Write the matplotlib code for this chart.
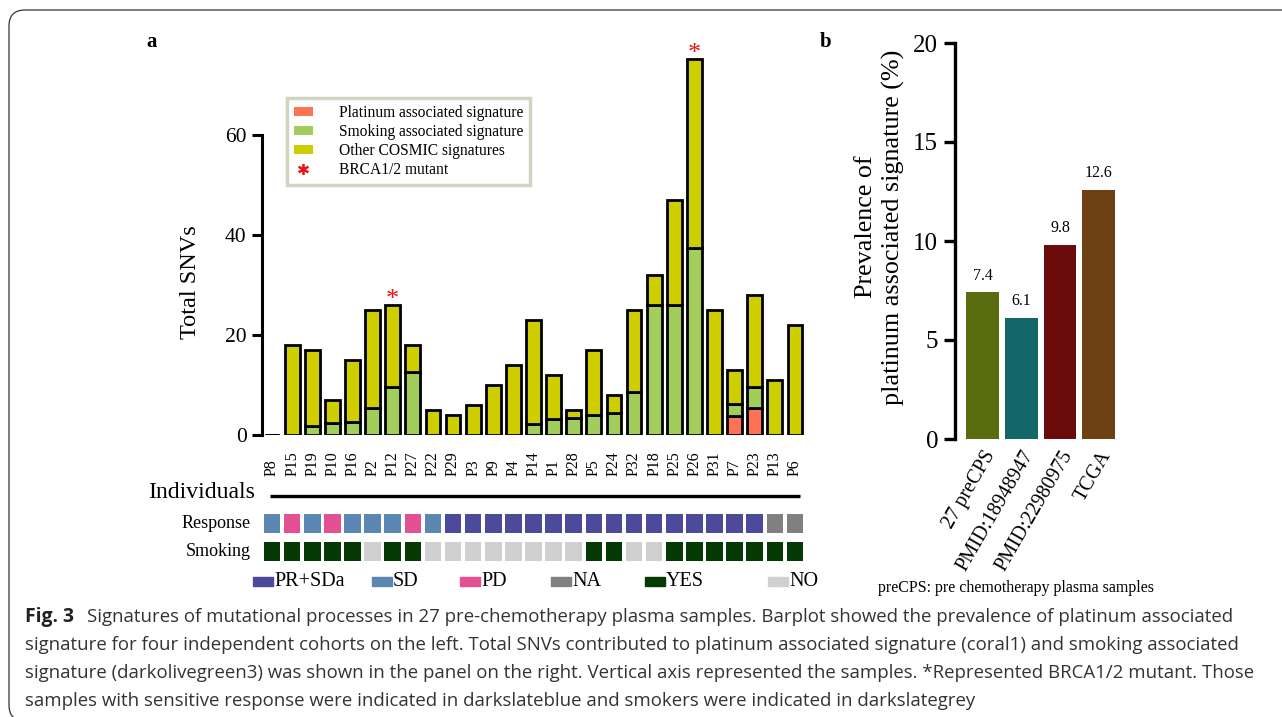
import numpy as np
import matplotlib.pyplot as plt
from matplotlib.patches import Patch, Rectangle, FancyBboxPatch
from matplotlib.lines import Line2D
import matplotlib.transforms as mtransforms

plt.rcParams['font.family'] = ['Liberation Serif', 'DejaVu Serif']

# ---- panel a data ----
samples = ['P8', 'P15', 'P19', 'P10', 'P16', 'P2', 'P12', 'P27', 'P22', 'P29', 'P3', 'P9', 'P4', 'P14',
           'P1', 'P28', 'P5', 'P24', 'P32', 'P18', 'P25', 'P26', 'P31', 'P7', 'P23', 'P13', 'P6']
total_snv = [0, 18, 17, 7, 15, 25, 26, 18, 5, 4, 6, 10, 14, 23, 12, 5, 17, 8, 25, 32, 47, 75, 25, 13, 28, 11, 22]
platinum = [0, 0, 0, 0, 0, 0, 0, 0, 0, 0, 0, 0, 0, 0, 0, 0, 0, 0, 0, 0, 0, 0, 0, 3.7, 5.3, 0, 0]
smoking = [0, 0, 1.8, 2.3, 2.5, 5.4, 9.6, 12.6, 0, 0, 0, 0, 0, 2.2, 3.2, 3.4, 3.9, 4.4, 8.6, 26, 26, 37.4, 0,
           2.4, 4.3, 0, 0]
brca_mutant = ['P12', 'P26']
response = ['SD', 'PD', 'SD', 'PD', 'SD', 'SD', 'SD', 'PD', 'SD'] + ['PR+SDa'] * 16 + ['NA', 'NA']
smoker = ['YES', 'YES', 'YES', 'YES', 'YES', 'NO', 'YES', 'YES', 'NO', 'NO', 'NO', 'NO', 'NO', 'NO',
          'NO', 'NO', 'YES', 'YES', 'NO', 'NO', 'YES', 'YES', 'YES', 'YES', 'YES', 'YES', 'YES']

# ---- panel b data ----
cohorts = ['27 preCPS', 'PMID:18948947', 'PMID:22980975', 'TCGA']
prevalence = [7.4, 6.1, 9.8, 12.6]

platinum = np.array(platinum)
smoking = np.array(smoking)
other = np.array(total_snv) - smoking - platinum

c_plat = '#ff7256'
c_smok = '#a2cd5a'
c_other = '#cdcd00'
resp_colors = {'PR+SDa': '#4b4a9b', 'SD': '#5c87b2', 'PD': '#e45094', 'NA': '#808080'}
smk_colors = {'YES': '#053a05', 'NO': '#d0d0d0'}
b_colors = ['#596d10', '#136769', '#6c0b0c', '#6d4114']

W, H = 1282, 717
fig = plt.figure(figsize=(W / 100, H / 100), dpi=100)

def fx(px):
    return px / W

def fy(py):
    return 1 - py / H

# rounded frame (runs off the right and bottom edges)
frame = FancyBboxPatch((0.09, -0.04), 13.5, 7.11, boxstyle='round,pad=0,rounding_size=0.16',
                       transform=fig.dpi_scale_trans, fill=False, edgecolor='#333333', lw=0.9)
fig.add_artist(frame)

# ---------------- panel a ----------------
ax = fig.add_axes([fx(262), fy(434.5), fx(543), 390 / H])
x = np.arange(len(samples))
bw = 0.74
ax.bar(x, platinum, bw, color=c_plat, edgecolor='black', lw=2)
ax.bar(x, smoking, bw, bottom=platinum, color=c_smok, edgecolor='black', lw=2)
ax.bar(x, other, bw, bottom=platinum + smoking, color=c_other, edgecolor='black', lw=2)
for s in brca_mutant:
    i = samples.index(s)
    ax.text(i, total_snv[i] - 0.2, '*', color='#ee1111', fontsize=19, ha='center', va='baseline')

ax.set_xlim(-0.5, 26.5)
ax.set_ylim(0, 78)
for sp in ['top', 'right', 'bottom']:
    ax.spines[sp].set_visible(False)
ax.spines['left'].set_bounds(0, 60)
ax.spines['left'].set_linewidth(2.2)
ax.set_yticks([0, 20, 40, 60])
ax.tick_params(axis='y', length=7, width=2.2, labelsize=15.5, pad=4)
ax.set_xticks([])
ax.set_ylabel('Total SNVs', fontsize=17.5)
ax.yaxis.set_label_coords(-0.112, 0.39)
trans = mtransforms.blended_transform_factory(ax.transData, fig.transFigure)
for i, s in enumerate(samples):
    ax.text(i, fy(476), s, transform=trans, rotation=90, ha='center', va='bottom', fontsize=11.5)

leg_handles = [Patch(facecolor=c_plat, edgecolor='none'), Patch(facecolor=c_smok, edgecolor='none'),
               Patch(facecolor=c_other, edgecolor='none'),
               Line2D([], [], ls='none', marker='$*$', color='#ee1111', markersize=7)]
leg_labels = ['Platinum associated signature', 'Smoking associated signature',
              'Other COSMIC signatures', 'BRCA1/2 mutant']
leg = ax.legend(leg_handles, leg_labels, loc='upper left', bbox_to_anchor=(0.046, 0.863),
                borderaxespad=0, fontsize=11.2, handlelength=1.2, handleheight=0.45,
                handletextpad=1.7, labelspacing=0.2, borderpad=0.45, fancybox=False)
leg.get_frame().set_edgecolor('#c8c8b4')
leg.get_frame().set_linewidth(2.5)

fig.text(fx(152), fy(42), 'a', fontsize=15, fontweight='bold', ha='center', va='center')

# annotation rows
axa = fig.add_axes([fx(262), fy(570), fx(543), 90 / H])
axa.set_xlim(-0.5, 26.5)
axa.set_ylim(-0.66, 2.554)
axa.axis('off')
axa.bar(x, 0.68, 0.82, bottom=1 - 0.34, color=[resp_colors[r] for r in response])
axa.bar(x, 0.68, 0.82, bottom=-0.34, color=[smk_colors[s] for s in smoker])
axa.plot([-0.1, 26.27], [1.98, 1.98], color='black', lw=2.4, solid_capstyle='butt')
axa.text(-0.85, 2.12, 'Individuals', ha='right', va='center', fontsize=17)
axa.text(-1.05, 1, 'Response', ha='right', va='center', fontsize=13)
axa.text(-1.05, 0, 'Smoking', ha='right', va='center', fontsize=13)

# bottom legend
legend_names = ['PR+SDa', 'SD', 'PD', 'NA', 'YES', 'NO']
legend_cols = [resp_colors['PR+SDa'], resp_colors['SD'], resp_colors['PD'], resp_colors['NA'],
               smk_colors['YES'], smk_colors['NO']]
legend_px = [253, 372, 460, 551, 645, 768]
for name, col, px in zip(legend_names, legend_cols, legend_px):
    fig.add_artist(Rectangle((fx(px), fy(586)), fx(20), 9 / H, color=col, transform=fig.transFigure))
    fig.text(fx(px + 21), fy(581), name, fontsize=14.5, ha='left', va='center')

# ---------------- panel b ----------------
axb = fig.add_axes([fx(955), fy(439), fx(163), 396 / H])
xb = np.arange(len(cohorts))
axb.bar(xb, prevalence, 0.85, color=b_colors)
for i, v in enumerate(prevalence):
    axb.text(i, v + 0.45, f'{v}', ha='center', va='bottom', fontsize=11.5)
axb.set_xlim(-0.72, 3.5)
axb.set_ylim(0, 20)
for sp in ['top', 'right', 'bottom']:
    axb.spines[sp].set_visible(False)
axb.spines['left'].set_linewidth(2.4)
axb.set_yticks([0, 5, 10, 15, 20])
axb.tick_params(axis='y', length=8, width=2.4, labelsize=18, pad=4)
axb.set_xticks(xb)
axb.set_xticklabels(cohorts, rotation=60, ha='right', va='top', rotation_mode='anchor', fontsize=14.5)
axb.tick_params(axis='x', length=0, pad=6)
axb.set_ylabel('Prevalence of\nplatinum associated signature (%)', fontsize=18.8, linespacing=1.3)
axb.yaxis.set_label_coords(-0.305, 0.535)
fig.text(fx(826), fy(42), 'b', fontsize=15, fontweight='bold', ha='center', va='center')
fig.text(fx(1016), fy(588), 'preCPS: pre chemotherapy plasma samples', fontsize=11.5, ha='center',
         va='center')

# ---------------- caption ----------------
cap_font = ['Open Sans', 'DejaVu Sans']
cap_lines = ['Signatures of mutational processes in 27 pre-chemotherapy plasma samples. Barplot showed the prevalence of platinum associated',
             'signature for four independent cohorts on the left. Total SNVs contributed to platinum associated signature (coral1) and smoking associated',
             'signature (darkolivegreen3) was shown in the panel on the right. Vertical axis represented the samples. *Represented BRCA1/2 mutant. Those',
             'samples with sensitive response were indicated in darkslateblue and smokers were indicated in darkslategrey']
renderer = fig.canvas.get_renderer()
probe = fig.text(0, 0, cap_lines[1], fontsize=13, family=cap_font)
cap_size = 13 * 1208 / probe.get_window_extent(renderer).width
probe.remove()
fig.text(fx(25), fy(617), 'Fig. 3', fontsize=cap_size + 0.5, fontweight='bold', family=cap_font,
         va='center', color='#222222')
cap_y = [617, 645, 673, 701]
for k, (line, py) in enumerate(zip(cap_lines, cap_y)):
    fig.text(fx(87 if k == 0 else 25), fy(py), line, fontsize=cap_size, family=cap_font, va='center',
             color='#333333')

fig.savefig('out.png', dpi=100)
